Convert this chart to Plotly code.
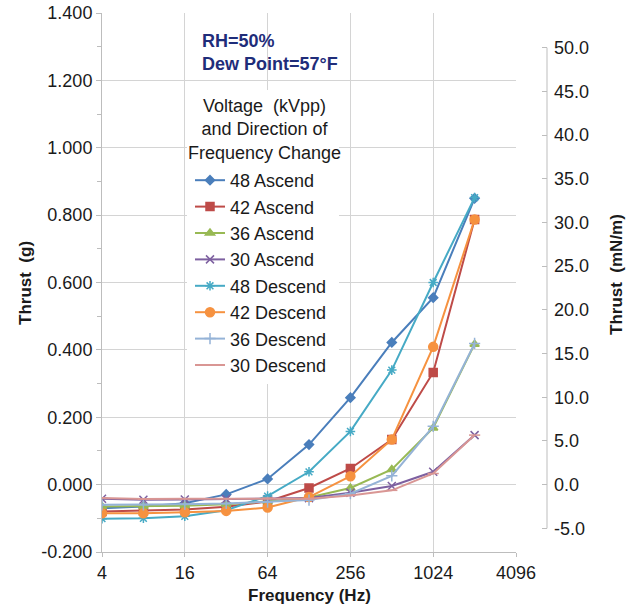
import plotly.graph_objects as go

freq = [4, 8, 16, 32, 64, 128, 256, 512, 1024, 2048]

series_names = ["48 Ascend", "42 Ascend", "36 Ascend", "30 Ascend",
                "48 Descend", "42 Descend", "36 Descend", "30 Descend"]

asc_48 = [-0.070, -0.065, -0.055, -0.029, 0.017, 0.119, 0.258, 0.422, 0.555, 0.850]
asc_42 = [-0.080, -0.078, -0.074, -0.066, -0.050, -0.010, 0.048, 0.134, 0.333, 0.787]
asc_36 = [-0.065, -0.065, -0.063, -0.058, -0.050, -0.038, -0.010, 0.045, 0.168, 0.417]
asc_30 = [-0.042, -0.045, -0.044, -0.043, -0.043, -0.040, -0.024, -0.004, 0.038, 0.147]
desc_48 = [-0.101, -0.100, -0.094, -0.076, -0.034, 0.038, 0.158, 0.340, 0.600, 0.852]
desc_42 = [-0.085, -0.085, -0.082, -0.078, -0.068, -0.037, 0.025, 0.134, 0.409, 0.787]
desc_36 = [-0.060, -0.060, -0.058, -0.056, -0.052, -0.046, -0.027, 0.026, 0.173, 0.419]
desc_30 = [-0.040, -0.043, -0.042, -0.042, -0.040, -0.042, -0.032, -0.017, 0.033, 0.147]

values = [asc_48, asc_42, asc_36, asc_30, desc_48, desc_42, desc_36, desc_30]
colors = ["#4A7EBB", "#BE4B48", "#98B954", "#7D60A0",
          "#46AAC5", "#F69240", "#95B3D7", "#D99694"]
symbols = ["diamond", "square", "triangle-up", "x-thin-open",
           "asterisk-open", "circle", "cross-thin-open", "line-ew-open"]
msizes = [7, 8, 8, 8, 8, 9, 8, 8]

x_ticks = [4, 16, 64, 256, 1024, 4096]
left_ticks = [-0.2, 0.0, 0.2, 0.4, 0.6, 0.8, 1.0, 1.2, 1.4]
right_ticks = [-5, 0, 5, 10, 15, 20, 25, 30, 35, 40, 45, 50]

FONT = "Arial, Liberation Sans, sans-serif"
GRID = "#D4D4D4"
AXIS = "#BDBDBD"
NB = "\u00a0"

fig = go.Figure()
for name, vals, c, s, ms in zip(series_names, values, colors, symbols, msizes):
    fig.add_trace(go.Scatter(
        x=freq, y=vals, name=name, mode="lines+markers",
        line=dict(color=c, width=2),
        marker=dict(symbol=s, size=ms, color=c, line=dict(color=c, width=1.5)),
    ))

# dummy trace for right axis
fig.add_trace(go.Scatter(x=[None], y=[None], yaxis="y2", showlegend=False, hoverinfo="skip"))

W, H = 641, 610
ml, mr, mt, mb = 102, 60, 13, 58
pw = W - ml - mr
ph = H - mt - mb
xdom_end = (516 - 102) / pw
y2pos = (547 - 102) / pw


def px(xp):
    return (xp - ml) / pw


def py(yp):
    return (H - mb - yp) / ph


fig.update_layout(
    width=W, height=H,
    margin=dict(l=ml, r=mr, t=mt, b=mb, autoexpand=False),
    paper_bgcolor="white", plot_bgcolor="white",
    font=dict(family=FONT, size=18, color="#1a1a1a"),
    xaxis=dict(
        type="log", domain=[0, xdom_end],
        range=[0.60206, 3.61236],
        tickvals=x_ticks, ticktext=[str(v) for v in x_ticks],
        showgrid=True, gridcolor=GRID, gridwidth=1,
        showline=True, linecolor=AXIS, linewidth=1,
        ticks="outside", ticklen=4, tickcolor=AXIS,
        zeroline=False, automargin=False, ticklabeloverflow="allow",
        tickfont=dict(size=18),
    ),
    yaxis=dict(
        range=[-0.2, 1.4],
        tickvals=left_ticks, ticktext=[f"{v:.3f}" for v in left_ticks],
        showgrid=True, gridcolor=GRID, gridwidth=1,
        showline=True, linecolor=AXIS, linewidth=1,
        ticks="outside", ticklen=5, tickcolor=AXIS,
        minor=dict(dtick=0.1, tick0=0, ticks="outside", ticklen=4, tickcolor=AXIS, showgrid=False),
        zeroline=False, automargin=False, ticklabeloverflow="allow",
        tickfont=dict(size=18),
    ),
    yaxis2=dict(
        overlaying="y", side="right", anchor="free", position=y2pos,
        range=[-0.2 * 38.55, 1.4 * 38.55],
        tickvals=right_ticks, ticktext=[f"{v:.1f}" for v in right_ticks],
        ticks="inside", ticklen=5, tickcolor=AXIS,
        ticklabelstandoff=6,
        showgrid=False, showline=False, zeroline=False, automargin=False,
        ticklabeloverflow="allow",
        tickfont=dict(size=18),
    ),
    legend=dict(
        x=px(190), y=py(162),
        xanchor="left", yanchor="top",
        bgcolor="white", borderwidth=0,
        font=dict(size=18, color="#1a1a1a"),
        itemsizing="trace",
        tracegroupgap=0,
    ),
    showlegend=True,
)

fig.add_shape(type="rect", xref="paper", yref="paper",
              x0=px(187), x1=px(339), y0=py(382), y1=py(90),
              fillcolor="white", line=dict(width=0), layer="above")

fig.add_shape(type="line", xref="paper", yref="y2",
              x0=y2pos, x1=y2pos, y0=-5, y1=50,
              line=dict(color=AXIS, width=1))

fig.add_annotation(text="Voltage" + NB + NB + "(kVpp)<br>and Direction of<br>Frequency Change",
                   xref="paper", yref="paper", x=px(264), y=py(129),
                   xanchor="center", yanchor="middle", align="center", showarrow=False,
                   font=dict(size=18, color="#1a1a1a"))

fig.add_annotation(text="<b>RH=50%<br>Dew Point=57°F</b>", xref="paper", yref="paper",
                   x=px(200), y=py(53),
                   xanchor="left", yanchor="middle", align="left", showarrow=False,
                   font=dict(size=18, color="#1F2D7A"))

fig.add_annotation(text="<b>Frequency (Hz)</b>", xref="paper", yref="paper",
                   x=px(309), y=py(595),
                   xanchor="center", yanchor="middle", showarrow=False,
                   font=dict(size=17))
fig.add_annotation(text="<b>Thrust" + NB + NB + "(g)</b>", xref="paper", yref="paper",
                   x=px(25), y=py(283),
                   xanchor="center", yanchor="middle", textangle=-90, showarrow=False,
                   font=dict(size=17))
fig.add_annotation(text="<b>Thrust" + NB + NB + "(mN/m)</b>", xref="paper", yref="paper",
                   x=px(616), y=py(275),
                   xanchor="center", yanchor="middle", textangle=-90, showarrow=False,
                   font=dict(size=17))

fig.write_html("out.html",
               config={"displayModeBar": False},
               post_script="document.body.style.margin='0';document.body.style.padding='0';")
